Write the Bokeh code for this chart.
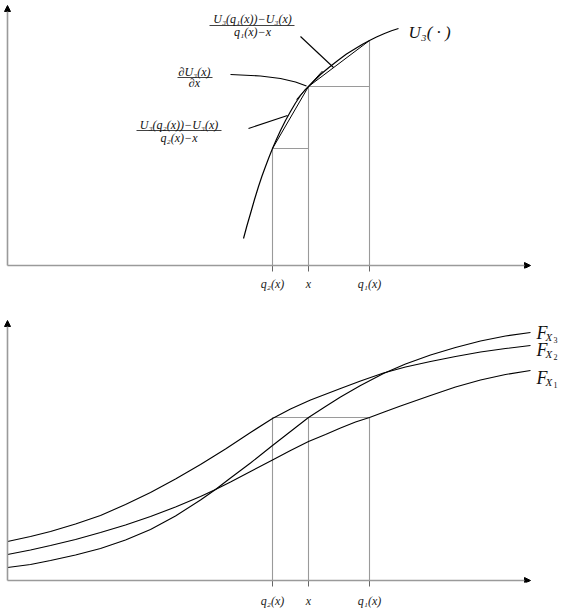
from bokeh.plotting import figure
from bokeh.models import Range1d, FixedTicker, Arrow, NormalHead
from bokeh.layouts import column
from bokeh.core.properties import value
from bokeh.embed import file_html
from bokeh.resources import INLINE

# ---------------- data ----------------
tick_positions = [272, 308, 369]          # q2(x), x, q1(x)
tick_labels = ["q₂(x)", "x", "q₁(x)"]

# top panel: utility curve U3(.)
u3_x = [243, 246.5, 250, 254, 258, 261.5, 265, 268.5, 272, 276, 280, 285, 290, 295, 300,
        304, 308, 314, 320, 329, 338, 346, 355, 362, 369, 376, 384, 391, 398]
u3_y = [27, 40, 52, 66, 79, 89.5, 99, 108.3, 117, 126.2, 135, 145, 154, 162.5, 170,
        175, 179, 185, 191, 198.5, 205.5, 211.5, 217, 221.3, 225, 228.5, 232, 234.7, 237]
u3_at_ticks = [117, 179, 225]             # U3(q2), U3(x), U3(q1)
tangent_x = [296, 322]
tangent_y = [166, 194.5]

ptr1_x = [300, 333]
ptr1_y = [229, 198]
ptr2_x = [230, 260, 280, 295, 306]
ptr2_y = [191, 189.5, 187, 183.5, 179.5]
ptr3_x = [248, 287]
ptr3_y = [137, 150]

frac_num = ["U₃(q₁(x))−U₃(x)", "∂U₃(x)", "U₃(q₂(x))−U₃(x)"]
frac_den = ["q₁(x)−x", "∂x", "q₂(x)−x"]
frac_x = [252, 194, 178.5]
frac_num_y = [246.5, 194, 140.5]
frac_bar_y = [240, 188, 135]
frac_den_y = [233.5, 182.5, 128]
frac_bar_x0 = [209, 177, 136]
frac_bar_x1 = [294, 212, 221]

u3_label = "U₃( · )"
u3_label_x = 408
u3_label_y = 233

# bottom panel: distribution functions
fx3_x = [7, 30, 50, 75, 100, 125, 150, 175, 200, 215, 230, 250, 272, 290, 308, 325, 340,
         360, 383, 405, 430, 455, 480, 505, 530]
fx3_y = [13, 16, 20, 25.5, 32, 40.5, 51, 64.5, 80.5, 91, 102.5, 117.5, 135, 149, 163, 174,
         183.5, 195, 207, 216.5, 225.5, 233, 239.5, 244.5, 248]
fx2_x = [7, 30, 50, 75, 100, 125, 150, 175, 200, 225, 250, 272, 290, 310, 340, 360, 383,
         405, 430, 455, 480, 505, 530]
fx2_y = [39, 44, 49, 56.5, 65, 76, 88, 101.5, 116, 131.5, 148, 162, 171.5, 180.5, 192,
         199.5, 207.5, 213.5, 219, 224, 228.5, 232, 235]
fx1_x = [7, 30, 50, 75, 100, 125, 150, 175, 200, 215, 230, 250, 272, 290, 308, 325, 340,
         355, 369, 385, 400, 430, 455, 480, 505, 530]
fx1_y = [26, 30.5, 35, 41, 48, 55.5, 64, 73.5, 84, 91, 98.5, 109, 120.5, 130, 139, 146,
         152.5, 158.5, 163, 169, 174.5, 185, 193.5, 200.5, 206, 210]
f_level = 163
f_label_x = 536
f_label_y = [248, 231, 203]
f_subs = ["3", "2", "1"]

AX_START = 7
AX_END = 530
SERIF = value("Liberation Serif")
GRAY = "#9a9a9a"


def base_fig(height, y_range, bottom_border, tick_in, tick_out, standoff):
    p = figure(width=568, height=height, x_range=Range1d(0, 568), y_range=y_range,
               output_backend="svg", toolbar_location=None, y_axis_location=None,
               min_border_left=0, min_border_right=0, min_border_top=0,
               min_border_bottom=bottom_border)
    p.grid.visible = False
    p.outline_line_color = None
    p.xaxis.ticker = FixedTicker(ticks=tick_positions)
    p.xaxis.major_label_overrides = dict(zip(tick_positions, tick_labels))
    p.xaxis.axis_line_color = None
    p.xaxis.minor_tick_line_color = None
    p.xaxis.major_tick_line_color = "#666666"
    p.xaxis.major_tick_in = tick_in
    p.xaxis.major_tick_out = tick_out
    p.xaxis.major_label_standoff = standoff
    p.xaxis.major_label_text_font = "Liberation Serif"
    p.xaxis.major_label_text_font_style = "italic"
    p.xaxis.major_label_text_font_size = "12px"
    p.xaxis.major_label_text_color = "#222222"
    return p


def add_axes(p, top):
    head = dict(size=6, fill_color="black", line_color="black", line_width=1)
    p.add_layout(Arrow(end=NormalHead(**head), x_start=AX_START, y_start=0, x_end=AX_END,
                       y_end=0, line_color=GRAY, line_width=1.6))
    p.add_layout(Arrow(end=NormalHead(**head), x_start=AX_START, y_start=0, x_end=AX_START,
                       y_end=top, line_color=GRAY, line_width=1.6))


# ---------------- top panel ----------------
p1 = base_fig(300, Range1d(-3, 265), 32, 3, 3, 5)
add_axes(p1, 260)

q2, xx, q1 = tick_positions
p1.segment(x0=tick_positions, y0=[0, 0, 0], x1=tick_positions, y1=u3_at_ticks,
           line_color=GRAY, line_width=1.1)
p1.segment(x0=[q2, xx], y0=u3_at_ticks[:2], x1=[xx, q1], y1=u3_at_ticks[:2],
           line_color=GRAY, line_width=1.1)
p1.line(u3_x, u3_y, line_color="black", line_width=1.2)
p1.segment(x0=[q2, xx], y0=u3_at_ticks[:2], x1=[xx, q1], y1=u3_at_ticks[1:],
           line_color="black", line_width=1.0)
p1.line(tangent_x, tangent_y, line_color="black", line_width=1.0)
p1.line(ptr1_x, ptr1_y, line_color="black", line_width=1.1)
p1.line(ptr2_x, ptr2_y, line_color="black", line_width=1.1)
p1.line(ptr3_x, ptr3_y, line_color="black", line_width=1.1)
p1.text(x=frac_x, y=frac_num_y, text=frac_num, text_font=SERIF, text_font_style="italic",
        text_font_size="12px", text_align="center", text_baseline="middle", text_color="#111111")
p1.text(x=frac_x, y=frac_den_y, text=frac_den, text_font=SERIF, text_font_style="italic",
        text_font_size="12px", text_align="center", text_baseline="middle", text_color="#111111")
p1.segment(x0=frac_bar_x0, y0=frac_bar_y, x1=frac_bar_x1, y1=frac_bar_y,
           line_color="#111111", line_width=0.8)
p1.text(x=[u3_label_x], y=[u3_label_y], text=[u3_label], text_font=SERIF,
        text_font_style="italic", text_font_size="17px", text_align="left",
        text_baseline="middle", text_color="#111111")

# ---------------- bottom panel ----------------
p2 = base_fig(312, Range1d(-2, 280), 30, 2, 4, 7)
add_axes(p2, 260)

p2.segment(x0=tick_positions, y0=[0, 0, 0], x1=tick_positions, y1=[f_level] * 3,
           line_color=GRAY, line_width=1.1)
p2.segment(x0=[q2], y0=[f_level], x1=[q1], y1=[f_level], line_color=GRAY, line_width=1.1)

for xs, ys in ((fx1_x, fx1_y), (fx2_x, fx2_y), (fx3_x, fx3_y)):
    p2.line(xs, ys, line_color="black", line_width=1.1)

p2.text(x=[f_label_x] * 3, y=f_label_y, text=["F"] * 3, text_font=SERIF,
        text_font_style="italic", text_font_size="18px", text_align="left",
        text_baseline="middle", text_color="#111111")
p2.text(x=[f_label_x] * 3, y=f_label_y, text=["X"] * 3, text_font=SERIF,
        text_font_style="italic", text_font_size="11px", text_align="left",
        text_baseline="middle", text_color="#111111", x_offset=9, y_offset=4)
p2.text(x=[f_label_x] * 3, y=f_label_y, text=f_subs, text_font=SERIF,
        text_font_size="8px", text_align="left",
        text_baseline="middle", text_color="#111111", x_offset=17, y_offset=7)

layout = column(p1, p2)
open("out.html", "w").write(file_html(layout, INLINE))
